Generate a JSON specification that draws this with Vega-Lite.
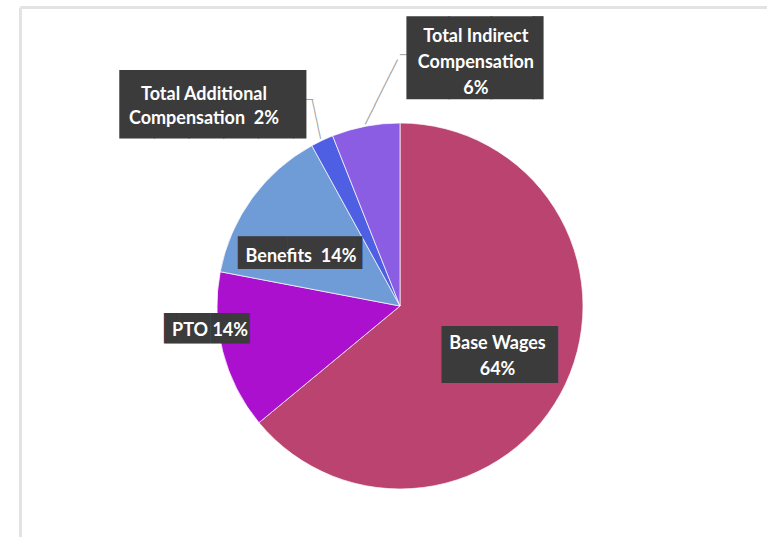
{
  "$schema": "https://vega.github.io/schema/vega-lite/v6.json",
  "width": 734,
  "height": 462,
  "autosize": {"type": "none"},
  "padding": {"left": 33, "top": 75, "right": 0, "bottom": 0},
  "background": "#ffffff",
  "config": {
    "view": {"stroke": null},
    "axis": {"domainColor": "#e3e3e3", "domainWidth": 3, "ticks": false, "labels": false, "grid": false, "title": null}
  },
  "data": {
    "values": [
      {"category": "Base Wages", "value": 64, "order": 1, "label": "Base Wages\n64%"},
      {"category": "PTO", "value": 14, "order": 2, "label": "PTO 14%"},
      {"category": "Benefits", "value": 14, "order": 3, "label": "Benefits\u00a0 14%"},
      {"category": "Total Additional Compensation", "value": 2, "order": 4, "label": "Total Additional\nCompensation\u00a0 2%"},
      {"category": "Total Indirect Compensation", "value": 6, "order": 5, "label": "Total Indirect\nCompensation\n6%"}
    ]
  },
  "layer": [
    {
      "mark": {"type": "point", "opacity": 0},
      "encoding": {
        "x": {"field": "value", "type": "quantitative", "scale": {"range": [-13, 734]}, "axis": {"orient": "top", "offset": 68}},
        "y": {"field": "order", "type": "quantitative", "scale": {"range": [462, -68]}, "axis": {"orient": "left", "offset": 13}}
      }
    },
    {
      "encoding": {
        "theta": {"field": "value", "type": "quantitative", "stack": true},
        "order": {"field": "order", "type": "quantitative"}
      },
      "layer": [
        {
          "mark": {"type": "arc", "outerRadius": 183, "stroke": "#ffffff", "strokeWidth": 1, "strokeOpacity": 0.7},
          "encoding": {
            "color": {
              "field": "category", "type": "nominal", "legend": null,
              "scale": {
                "domain": ["Base Wages", "PTO", "Benefits", "Total Additional Compensation", "Total Indirect Compensation"],
                "range": ["#BA446F", "#AB10CE", "#6F9CD6", "#4F5FE3", "#8A5DE3"]
              }
            }
          }
        },
        {
          "mark": {"type": "text", "radius": 185, "angle": 296.6, "align": "left", "fontSize": 12, "font": "DejaVu Sans Mono", "fill": "#a0a0a0"},
          "encoding": {"detail": {"field": "category"}, "text": {"condition": {"test": "datum.category === 'Total Indirect Compensation'", "value": "──────────"}, "value": ""}}
        },
        {
          "mark": {"type": "text", "radius": 185, "align": "left", "dx": 34.7, "dy": -69.3, "fontSize": 12, "font": "DejaVu Sans Mono", "fill": "#a0a0a0"},
          "encoding": {"detail": {"field": "category"}, "text": {"condition": {"test": "datum.category === 'Total Indirect Compensation'", "value": "─"}, "value": ""}}
        },
        {
          "mark": {"type": "text", "radius": 185, "angle": 258, "align": "left", "fontSize": 11, "font": "DejaVu Sans Mono", "fill": "#a0a0a0"},
          "encoding": {"detail": {"field": "category"}, "text": {"condition": {"test": "datum.category === 'Total Additional Compensation'", "value": "──────"}, "value": ""}}
        },
        {
          "mark": {"type": "text", "radius": 185, "align": "right", "dx": -8.2, "dy": -38.6, "fontSize": 11, "font": "DejaVu Sans Mono", "fill": "#a0a0a0"},
          "encoding": {"detail": {"field": "category"}, "text": {"condition": {"test": "datum.category === 'Total Additional Compensation'", "value": "──"}, "value": ""}}
        },
        {
          "mark": {"type": "text", "radius": 230, "align": "left", "dx": 50.1, "dy": -19.1, "fontSize": 70, "font": "DejaVu Sans Mono", "fill": "#3b3b3b"},
          "encoding": {"detail": {"field": "category"}, "text": {"condition": {"test": "datum.category === 'Total Indirect Compensation'", "value": "███▎"}, "value": ""}}
        },
        {
          "mark": {"type": "text", "radius": 263, "align": "left", "dx": -168, "dy": 38.5, "fontSize": 57.6, "font": "DejaVu Sans Mono", "fill": "#3b3b3b"},
          "encoding": {"detail": {"field": "category"}, "text": {"condition": {"test": "datum.category === 'Total Additional Compensation'", "value": "█████▍"}, "value": ""}}
        },
        {
          "mark": {"type": "text", "radius": 112, "align": "left", "dx": -71.4, "dy": 14.3, "fontSize": 27.5, "font": "DejaVu Sans Mono", "fill": "#3b3b3b"},
          "encoding": {"detail": {"field": "category"}, "text": {"condition": {"test": "datum.category === 'Benefits'", "value": "███████▌"}, "value": ""}}
        },
        {
          "mark": {"type": "text", "radius": 192, "align": "left", "dx": -50, "dy": -24.9, "fontSize": 25.8, "font": "DejaVu Sans Mono", "fill": "#3b3b3b"},
          "encoding": {"detail": {"field": "category"}, "text": {"condition": {"test": "datum.category === 'PTO'", "value": "█████▌"}, "value": ""}}
        },
        {
          "mark": {"type": "text", "radius": 110, "align": "left", "dx": -57.5, "dy": 3.7, "fontSize": 48, "font": "DejaVu Sans Mono", "fill": "#3b3b3b"},
          "encoding": {"detail": {"field": "category"}, "text": {"condition": {"test": "datum.category === 'Base Wages'", "value": "████"}, "value": ""}}
        },
        {
          "mark": {"type": "text", "radius": 230, "dx": 119, "dy": -43.3, "fontSize": 18, "lineHeight": 26, "lineBreak": "\n", "font": "Lato", "fontWeight": "bold", "fill": "#ffffff"},
          "encoding": {"detail": {"field": "category"}, "text": {"condition": {"test": "datum.category === 'Total Indirect Compensation'", "field": "label"}, "value": ""}}
        },
        {
          "mark": {"type": "text", "radius": 263, "dx": -84, "dy": 27, "fontSize": 18, "lineHeight": 24, "lineBreak": "\n", "font": "Lato", "fontWeight": "bold", "fill": "#ffffff"},
          "encoding": {"detail": {"field": "category"}, "text": {"condition": {"test": "datum.category === 'Total Additional Compensation'", "field": "label"}, "value": ""}}
        },
        {
          "mark": {"type": "text", "radius": 112, "dx": -8.4, "dy": 16.6, "fontSize": 18, "lineBreak": "\n", "font": "Lato", "fontWeight": "bold", "fill": "#ffffff"},
          "encoding": {"detail": {"field": "category"}, "text": {"condition": {"test": "datum.category === 'Benefits'", "field": "label"}, "value": ""}}
        },
        {
          "mark": {"type": "text", "radius": 192, "dx": -4, "dy": -22.5, "fontSize": 18, "lineBreak": "\n", "font": "Lato", "fontWeight": "bold", "fill": "#ffffff"},
          "encoding": {"detail": {"field": "category"}, "text": {"condition": {"test": "datum.category === 'PTO'", "field": "label"}, "value": ""}}
        },
        {
          "mark": {"type": "text", "radius": 110, "dx": -2, "dy": -9.3, "fontSize": 18, "lineHeight": 26, "lineBreak": "\n", "font": "Lato", "fontWeight": "bold", "fill": "#ffffff"},
          "encoding": {"detail": {"field": "category"}, "text": {"condition": {"test": "datum.category === 'Base Wages'", "field": "label"}, "value": ""}}
        }
      ]
    }
  ]
}
